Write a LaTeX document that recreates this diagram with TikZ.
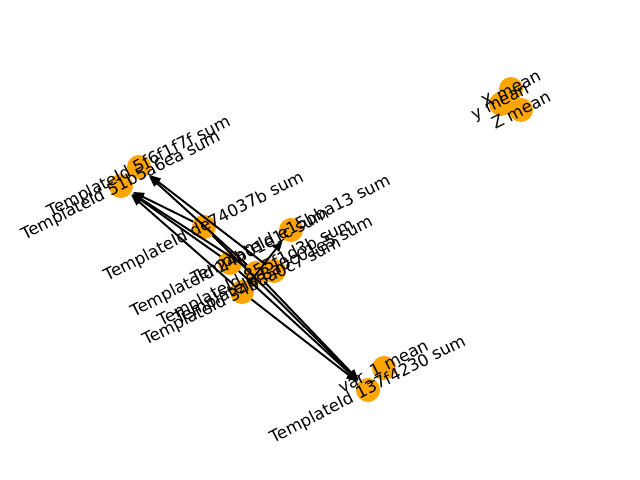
\documentclass[tikz,border=0pt]{standalone}
\usepackage{fontspec}
\setmainfont{DejaVu Sans}
\usetikzlibrary{arrows.meta}
\definecolor{nodeorange}{HTML}{FFA500}
\begin{document}
\begin{tikzpicture}[x=0.01in,y=-0.01in,
  nd/.style={circle,fill=nodeorange,minimum size=0.24in,inner sep=0pt,outer sep=0pt},
  lbl/.style={rotate=27,inner sep=0pt,font=\fontsize{12}{14}\selectfont},
  edge/.style={-{Triangle[length=8pt,width=6pt]},line width=1.4pt,shorten >=1pt}]
\useasboundingbox (0,0) rectangle (640,480);
% nodes
\node[nd] (a) at (139,167) {};
\node[nd] (b) at (121,186) {};
\node[nd] (c) at (204,227) {};
\node[nd] (d) at (291,230) {};
\node[nd] (e) at (230,263) {};
\node[nd] (f) at (256,273) {};
\node[nd] (g) at (274,271) {};
\node[nd] (h) at (242,292) {};
\node[nd] (i) at (384,368) {};
\node[nd] (j) at (368,390) {};
\node[nd] (k) at (511,89) {};
\node[nd] (l) at (501,104) {};
\node[nd] (m) at (521,110) {};
% edges
\draw[edge] (c) -- (b);
\draw[edge] (e) -- (b);
\draw[edge] (f) -- (b);
\draw[edge] (h) -- (b);
\draw[edge] (f) -- (a);
\draw[edge] (g) -- (a);
\draw[edge] (c) -- (j);
\draw[edge] (e) -- (j);
\draw[edge] (f) -- (j);
\draw[edge] (h) -- (j);
\draw[edge] (h) -- (d);
% labels
\node[lbl] (la) at (a) {TemplateId 5f6f1f7f sum};
\node[lbl] (lb) at (b) {TemplateId 51b5a6ea sum};
\node[lbl] (lc) at (c) {TemplateId de74037b sum};
\node[lbl] (ld) at (d) {TemplateId e15bba13 sum};
\node[lbl] (le) at (e) {TemplateId 24b01e1c sum};
\node[lbl] (lf) at (f) {TemplateId 855f1d3b sum};
\node[lbl] (lg) at (g) {TemplateId 8a0c01e5 sum};
\node[lbl] (lh) at (h) {TemplateId 34b8a0c7 sum};
\node[lbl] (li) at (i) {var\_1 mean};
\node[lbl] (lj) at (j) {TemplateId 137f4230 sum};
\node[lbl] (lk) at (k) {X mean};
\node[lbl] (ll) at (l) {y mean};
\node[lbl] (lm) at (m) {Z mean};
\end{tikzpicture}
\end{document}
